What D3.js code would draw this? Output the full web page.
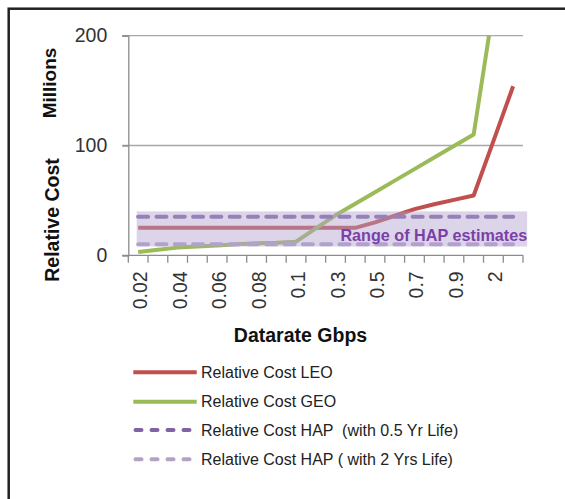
<!DOCTYPE html>
<html>
<head>
<meta charset="utf-8">
<script src="https://cdn.jsdelivr.net/npm/d3@7"></script>
<style>
  body { margin: 0; background: #fff; }
  text { font-family: "Liberation Sans", Arial, sans-serif; white-space: pre; }
</style>
</head>
<body>
<div id="chart"></div>
<script>
const width = 565;
const height = 499;

// data
const categories = ["0.02","0.03","0.04","0.05","0.06","0.07","0.08","0.09","0.1",
                    "0.2","0.3","0.4","0.5","0.6","0.7","0.8","0.9","1","2","3"];
const leo   = [25,25,25,25,25,25,25,25,25,25,25,25,30,36,42,46.5,50.5,54.5,104,154];
const geo   = [3,5,7,8,9,10,11,11.5,12.4,24.5,36.4,47,57.5,68,78.5,89,99.5,110,226,340];
const hap05 = [35,35,35,35,35,35,35,35,35,35,35,35,35,35,35,35,35,35,35,35];
const hap2  = [10,10,10,10,10,10,10,10,10,10,10,10,10,10,10,10,10,10,10,10];
const hapRange = [8, 40];
const yTicks = [0, 100, 200];

const series = [
    {name: "Relative Cost LEO", values: leo, color: "#c0504d", dash: null},
    {name: "Relative Cost GEO", values: geo, color: "#9bbb59", dash: null},
    {name: "Relative Cost HAP  (with 0.5 Yr Life)", values: hap05, color: "#8064a2", dash: true},
    {name: "Relative Cost HAP ( with 2 Yrs Life)", values: hap2, color: "#b3a2c7", dash: true}
];

const svg = d3.select('#chart').append('svg')
    .attr('width', width)
    .attr('height', height);

// outer chart frame (cut off at right and bottom)
svg.append('rect')
    .attr('x', 8.7).attr('y', 8.7)
    .attr('width', 700).attr('height', 700)
    .attr('fill', 'none')
    .attr('stroke', '#222')
    .attr('stroke-width', 2.5);

const plot = {left: 128.3, right: 523, top: 35.7, bottom: 255.3};

const x = d3.scaleBand().domain(categories).range([plot.left, plot.right]);
const y = d3.scaleLinear().domain([0, 200]).range([plot.bottom, plot.top]);
const cx = c => x(c) + x.bandwidth()/2;

// gridlines
svg.append('g').selectAll('line')
    .data(yTicks.filter(d => d > 0))
    .join('line')
    .attr('x1', plot.left - 6).attr('x2', plot.right)
    .attr('y1', d => y(d)).attr('y2', d => y(d))
    .attr('stroke', '#a8a8a8').attr('stroke-width', 1.3);

// y axis
const yAxis = svg.append('g')
    .attr('transform', `translate(${plot.left},0)`)
    .call(d3.axisLeft(y).tickValues(yTicks).tickSize(6).tickPadding(15));
yAxis.select('.domain').attr('stroke', '#8c8c8c').attr('stroke-width', 1.3);
yAxis.selectAll('.tick line').attr('stroke', '#8c8c8c').attr('stroke-width', 1.3);
yAxis.selectAll('.tick text')
    .attr('font-size', 19.5)
    .attr('fill', '#333')
    .attr('font-family', '"Liberation Sans", Arial, sans-serif');

// x axis line and boundary ticks
svg.append('line')
    .attr('x1', plot.left - 6).attr('x2', plot.right)
    .attr('y1', y(0)).attr('y2', y(0))
    .attr('stroke', '#8c8c8c').attr('stroke-width', 1.3);
const edges = categories.map(c => x(c)).concat([plot.right]);
svg.append('g').selectAll('line')
    .data(edges)
    .join('line')
    .attr('x1', d => d).attr('x2', d => d)
    .attr('y1', y(0)).attr('y2', y(0) + 7.5)
    .attr('stroke', '#8c8c8c').attr('stroke-width', 1.3);

// x tick labels, every other category
svg.append('g').selectAll('text')
    .data(categories.filter((c, i) => i % 2 === 0))
    .join('text')
    .attr('transform', c => `translate(${cx(c) + 9},${y(0) + 16}) rotate(-90)`)
    .attr('text-anchor', 'end')
    .attr('font-size', 19.5)
    .attr('fill', '#333')
    .text(c => c);

// lines, clipped to the plot area
svg.append('clipPath').attr('id', 'clip')
    .append('rect')
    .attr('x', plot.left).attr('y', plot.top)
    .attr('width', plot.right - plot.left + 10)
    .attr('height', plot.bottom - plot.top);

const line = d3.line()
    .x((d, i) => cx(categories[i]))
    .y(d => y(d));

const lines = svg.append('g').attr('clip-path', 'url(#clip)');
series.forEach(s => {
    lines.append('path')
        .datum(s.values)
        .attr('d', line)
        .attr('fill', 'none')
        .attr('stroke', s.color)
        .attr('stroke-width', 4)
        .attr('stroke-linejoin', 'round')
        .attr('stroke-linecap', s.dash ? 'round' : 'butt')
        .attr('stroke-dasharray', s.dash ? '10 8.3' : null);
});

// HAP range band over the lines
svg.append('rect')
    .attr('x', cx(categories[0]) - 1.5)
    .attr('y', y(hapRange[1]))
    .attr('width', cx(categories[19]) - cx(categories[0]) + 15.5)
    .attr('height', y(hapRange[0]) - y(hapRange[1]))
    .attr('fill', 'rgb(177,162,208)')
    .attr('opacity', 0.45);

svg.append('text')
    .attr('x', x(categories[11]) - 5)
    .attr('y', y(13))
    .attr('font-size', 16.2)
    .attr('font-weight', 'bold')
    .attr('fill', '#7b3fa8')
    .text('Range of HAP estimates');

// axis titles
svg.append('text')
    .attr('transform', 'translate(59,220) rotate(-90)')
    .attr('text-anchor', 'middle')
    .attr('font-size', 19.5)
    .attr('font-weight', 'bold')
    .attr('fill', '#111')
    .text('Relative Cost');
svg.append('text')
    .attr('transform', 'translate(56,83) rotate(-90)')
    .attr('text-anchor', 'middle')
    .attr('font-size', 19)
    .attr('font-weight', 'bold')
    .attr('fill', '#111')
    .text('Millions');
svg.append('text')
    .attr('x', 300.5).attr('y', 342.3)
    .attr('text-anchor', 'middle')
    .attr('font-size', 19.5)
    .attr('font-weight', 'bold')
    .attr('fill', '#111')
    .text('Datarate Gbps');

// legend
const legendY = [372.3, 401.7, 430, 459.3];
const legend = svg.append('g');
series.forEach((s, i) => {
    legend.append('line')
        .attr('x1', s.dash ? 135.5 : 133.3).attr('x2', s.dash ? 194.5 : 196.7)
        .attr('y1', legendY[i]).attr('y2', legendY[i])
        .attr('stroke', s.color)
        .attr('stroke-width', 4)
        .attr('stroke-linecap', s.dash ? 'round' : 'butt')
        .attr('stroke-dasharray', s.dash ? '6 10' : null);
    legend.append('text')
        .attr('x', 201)
        .attr('y', legendY[i])
        .attr('dy', '0.36em')
        .attr('font-size', 16)
        .attr('fill', '#222')
        .text(s.name);
});
</script>
</body>
</html>
